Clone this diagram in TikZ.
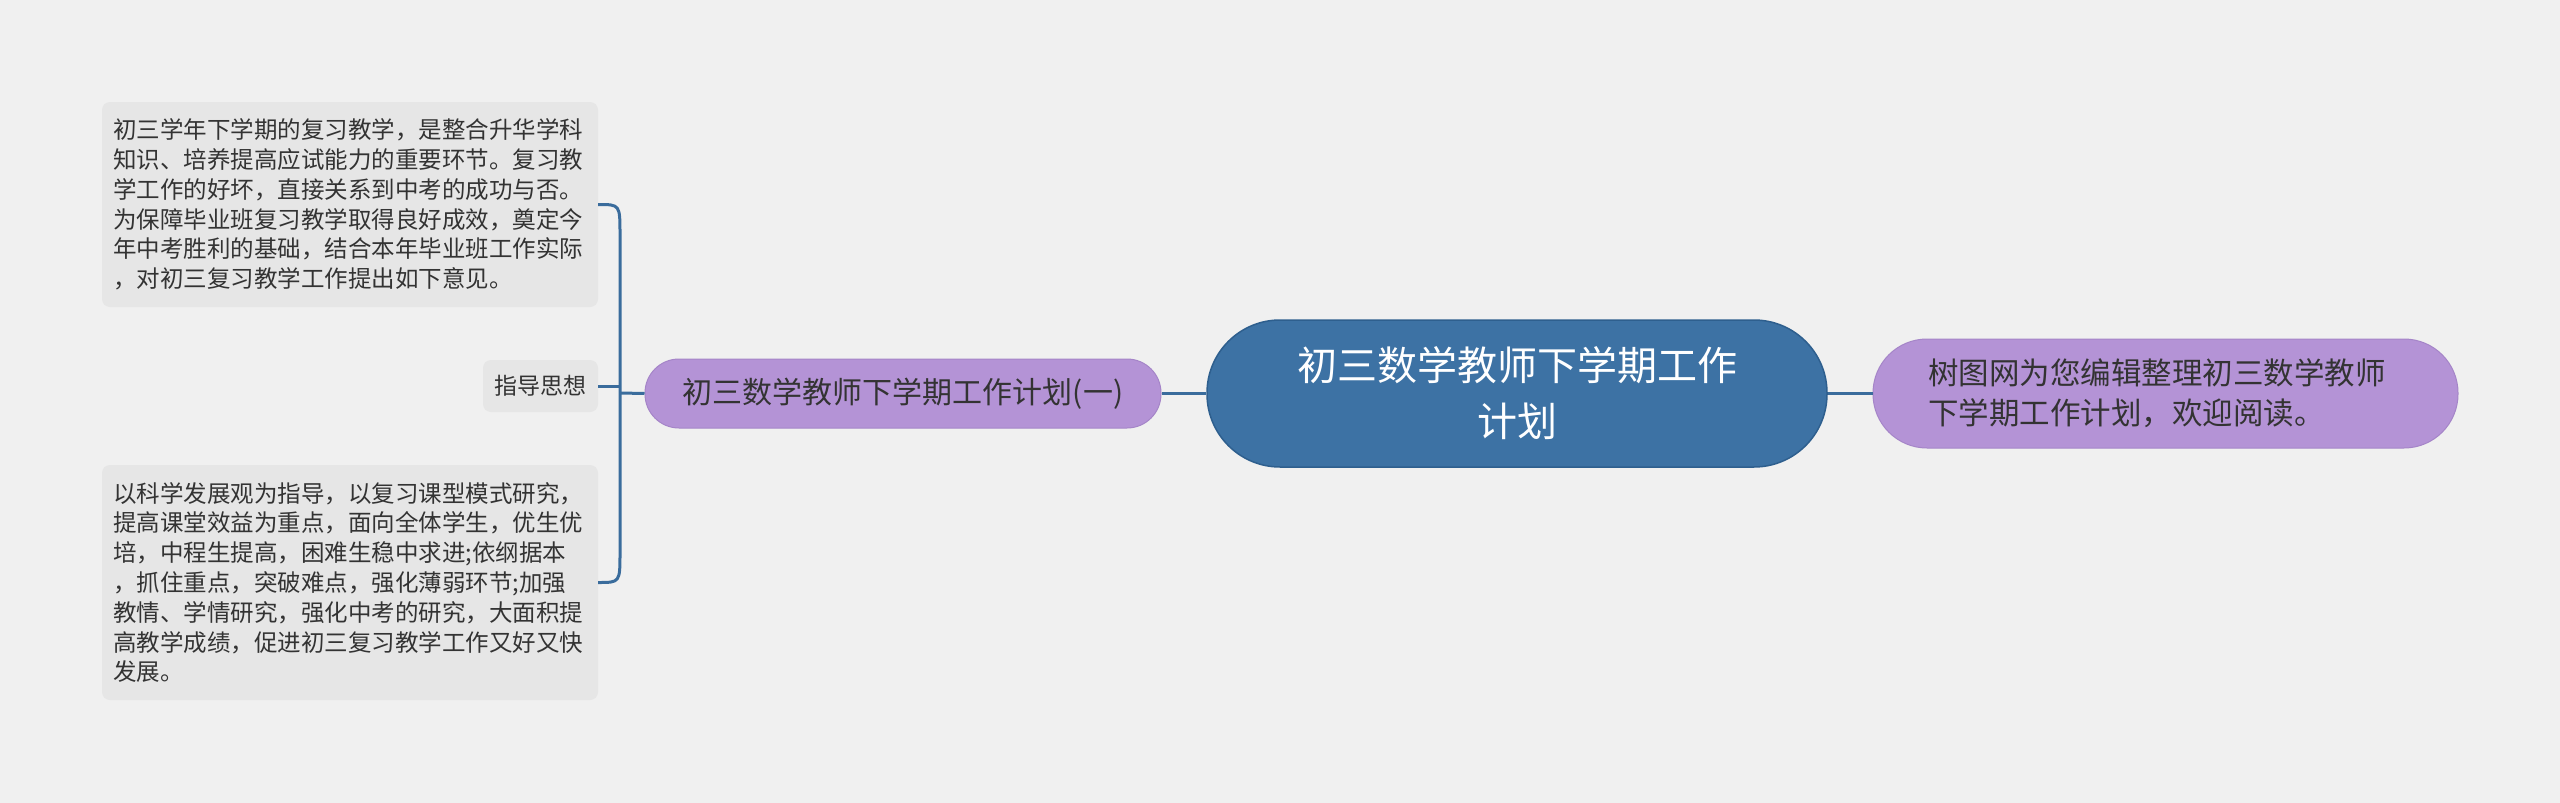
\documentclass[tikz,border=0pt]{standalone}
\usepackage{fontspec}
\newfontfamily\cjk{Noto Sans CJK SC}
\usetikzlibrary{calc}
\definecolor{bg}{HTML}{F0F0F0}
\definecolor{boxfill}{HTML}{E6E6E6}
\definecolor{purp}{HTML}{B493D6}
\definecolor{purpline}{HTML}{A585C8}
\definecolor{bluefill}{HTML}{3D72A4}
\definecolor{blueline}{HTML}{2E5F8E}
\definecolor{conn}{HTML}{3A6C9C}
\definecolor{txt}{HTML}{333333}
\begin{document}
\begin{tikzpicture}[x=1pt,y=-1pt,
  textbox/.style={fill=boxfill, rounded corners=8pt, inner xsep=11pt, inner ysep=0pt, align=left, text=txt,
    font=\cjk\fontsize{23.5}{29.8}\selectfont},
  subnode/.style={fill=purp, draw=purpline, line width=1pt, align=center, text=txt, inner sep=0pt},
  link/.style={draw=conn, line width=3pt}
]
\useasboundingbox[fill=bg] (0,0) rectangle (2560,803);

\node[fill=bluefill, draw=blueline, line width=1.5pt, rounded corners=73pt, minimum width=620pt, minimum height=147pt,
  inner sep=0pt, align=center, text=white, font=\cjk\fontsize{40}{56}\selectfont] (root) at (1517,393.5)
  {初三数学教师下学期工作\\计划};

\node[subnode, rounded corners=34pt, minimum width=516pt, minimum height=69pt,
  font=\cjk\fontsize{30}{40}\selectfont] (p1) at (903,393.5) {初三数学教师下学期工作计划(一)};

\node[subnode, rounded corners=54pt, minimum width=585pt, minimum height=109pt, align=left, text width=475pt,
  font=\cjk\fontsize{30.5}{40}\selectfont] (p2) at (2165.5,393.5)
  {树图网为您编辑整理初三数学教师\\下学期工作计划，欢迎阅读。};

\node[textbox, text width=474pt, minimum height=205pt] (b1) at (350,204.5)
  {初三学年下学期的复习教学，是整合升华学科\\知识、培养提高应试能力的重要环节。复习教\\学工作的好坏，直接关系到中考的成功与否。\\为保障毕业班复习教学取得良好成效，奠定今\\年中考胜利的基础，结合本年毕业班工作实际\\，对初三复习教学工作提出如下意见。};

\node[textbox, text width=474pt, minimum height=235pt] (b2) at (350,582.5)
  {以科学发展观为指导，以复习课型模式研究，\\提高课堂效益为重点，面向全体学生，优生优\\培，中程生提高，困难生稳中求进;依纲据本\\，抓住重点，突破难点，强化薄弱环节;加强\\教情、学情研究，强化中考的研究，大面积提\\高教学成绩，促进初三复习教学工作又好又快\\发展。};

\node[textbox, inner xsep=0pt, minimum width=115pt, minimum height=52pt, align=center,
  font=\cjk\fontsize{23}{29}\selectfont] (zd) at (540.5,386) {指导思想};

\coordinate (J) at (620,393);

\draw[link] (root.west) -- (p1.east);
\draw[link] (root.east) -- (p2.west);
\draw[link] (p1.west) -- (J);
\draw[link] (zd.east) -- (J |- zd.east);
\draw[link] (b1.east) .. controls (J |- b1.east) .. ($(J |- b1.east)+(0,30)$)
  -- ($(J |- b2.east)+(0,-30)$) .. controls (J |- b2.east) .. (b2.east);
\end{tikzpicture}
\end{document}
